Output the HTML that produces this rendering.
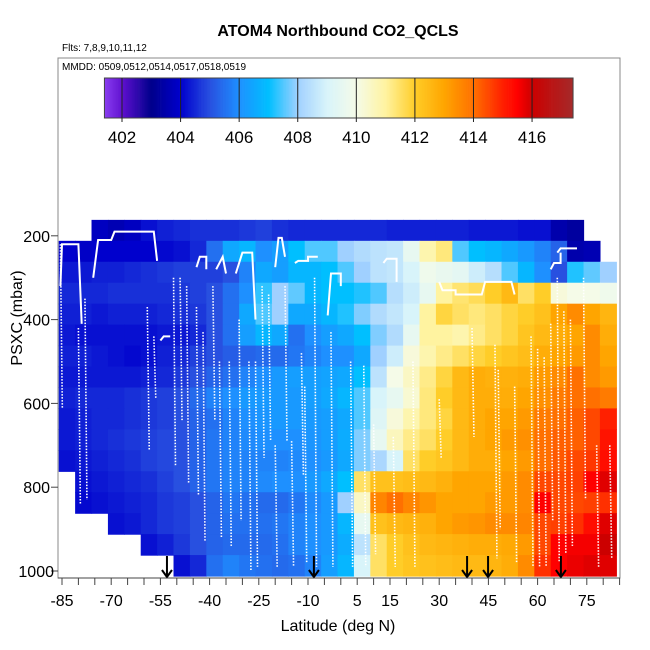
<!DOCTYPE html>
<html><head><meta charset="utf-8"><style>
html,body{margin:0;padding:0;background:#fff}
svg{display:block;font-family:"Liberation Sans",sans-serif}
</style></head><body>
<svg id="c" width="650" height="650" viewBox="0 0 650 650">
<rect width="650" height="650" fill="#fff"/>
<text x="338" y="36" text-anchor="middle" font-size="16" font-weight="bold">ATOM4 Northbound CO2_QCLS</text>
<text x="62" y="51" font-size="10">Flts: 7,8,9,10,11,12</text>
<g id="heat"></g>
<g id="tracks"></g>
<g id="arrows"></g>
<rect x="58" y="58" width="562" height="520" fill="none" stroke="#888" stroke-width="1"/>
<rect x="59" y="59" width="300" height="14" fill="#fff"/>
<text x="62" y="70" font-size="10">MMDD: 0509,0512,0514,0517,0518,0519</text>
<g id="cbar"></g>
<g id="axes"></g>
<text x="338" y="631" text-anchor="middle" font-size="16">Latitude (deg N)</text>
<text transform="translate(22,318) rotate(-90)" text-anchor="middle" font-size="16">PSXC (mbar)</text>
</svg>
<script>
const NS="http://www.w3.org/2000/svg";
const latStart=-86, latStep=5;
const rowTops=[162,212,262,312,362,412,462,512,562,612,662,712,762,812,862,912,962];
const rowStep=50;
const row00=[null,null,403.8,403.6,403.8,404.2,404.4,404.5,404.6,404.6,404.6,404.7,404.8,404.6,404.5,404.5,404.5,404.5,404.5,404.5,404.4,404.4,404.4,404.4,404.4,404.3,404.3,404.3,404.2,404.2,403.5,403.3,null,null];
const row01=[404.0,403.9,404.0,404.0,404.0,404.0,404.1,404.2,404.5,405.5,406.5,406.8,406,406.3,407,407.5,407.5,408,408.3,408.5,408.6,409.5,410.8,411.3,407.5,407,406.8,406.5,406.2,405.8,405.3,403.5,403.6,null];
const row02=[404.3,404.3,404.4,404.4,404.5,404.6,404.7,404.8,404.8,404.8,405,405.8,406.5,406.3,406.8,406.8,407,407.5,408,408.5,408.6,409,409.8,409.6,409.4,408.8,408.4,407.5,406.8,406,405,407.2,407.6,408];
const row03=[404.5,404.5,404.5,404.6,404.6,404.6,404.6,404.7,404.8,405,405.5,406,407.3,408,407.6,406.8,407,407,407.2,407.5,408.4,408.8,409.5,411,411.4,411.6,412,412.5,411.5,412,410.2,410,410,409.8];
const row04=[404.4,404.4,404.3,404.4,404.4,404.4,404.5,404.6,404.7,405,405.5,406.5,407.5,408,406.5,406.5,406.8,407.2,407.8,408.3,408.6,409,411,411.8,411.5,411.3,411.5,411.8,412,412.3,413,413.5,413,412.6];
const row05=[404.3,404.2,404.2,404.2,404.2,404.2,404.3,404.3,404.5,405,405.5,406.3,406.8,406.5,405.5,406,406.3,406.5,407,407.8,408.3,409.5,411,411,410.8,411.2,411.5,411.8,412.2,412.5,412.8,413,413.5,412.8];
const row06=[404.4,404.4,404.3,404.2,404.1,404.2,404.4,404.5,404.8,405,405.2,405.3,405.4,405.4,405.6,405.8,406,406,406.5,408,408.8,410.2,410.8,411.2,411.5,411.8,412,412.2,412.4,412.8,413,413.2,413.5,413];
const row07=[404.3,404.3,404.3,404.3,404.3,404.4,404.5,404.7,405,405.3,405.5,405.8,406,406.2,406.3,406.3,406.4,406.5,407,408.5,410,410.5,411.2,411.8,412.5,412.8,412.7,412.7,412.8,413.2,413.5,414,413.5,413.2];
const row08=[404.4,404.5,404.5,404.5,404.6,404.7,404.8,405,405.4,405.8,406,406.2,406.2,406.2,406.2,406.3,406.5,406.8,407.5,409,409.5,410.3,411.3,412,412.5,412.8,412.8,412.8,413,413.4,413.8,414,414,413.8];
const row09=[404.3,404.4,404.5,404.5,404.6,404.7,404.8,405,405.3,405.5,405.8,406,406.1,406.2,406.2,406.2,406.3,406.5,407.5,409.2,410.2,410.8,411.3,411.8,412.5,412.8,413,413,413.2,413.8,414,414.2,414.5,415];
const row10=[404.3,404.4,404.5,404.6,404.7,404.8,404.9,405,405.3,405.6,405.8,405.9,406,406,406,406.1,406.3,406.6,407.8,409.5,410.6,411.2,411.5,412,412.5,412.8,413,413.2,413.4,414,414.2,414.2,414.5,415.2];
const row11=[404.2,404.3,404.4,404.5,404.6,404.8,404.9,405,405.3,405.6,405.8,405.8,405.8,405.8,405.9,406,406.2,406.5,407.8,408.2,409,411.5,412,412.2,412.5,412.8,412.8,413,413.2,414,414.3,414.5,414.7,415.3];
const row12=[null,404.2,404.3,404.4,404.5,404.6,404.8,405,405.3,405.6,405.8,405.8,405.9,406,406,406.2,406.5,407,411.5,412.3,412.3,412.4,412.5,412.7,413,413,413,413.2,413.5,414.5,414.5,414.6,415.5,415.8];
const row13=[null,404.1,404.2,404.3,404.4,404.5,404.7,404.8,405,405.3,405.6,405.5,405.4,405.4,405.6,405.9,406.2,408,410.5,413.6,414,413.6,413.3,413,413,413,413.2,413.2,413.5,415.5,414.5,414.5,414.6,414.8];
const row14=[null,null,null,404.2,404.3,404.5,404.7,404.8,405,405.3,405.5,405.5,405.5,405.6,405.8,406,406.2,406.8,409.5,412.3,412.5,412.6,412.7,413,413.2,413.3,413.5,413.5,413.6,414.5,414.6,414.8,415.3,415.8];
const row15=[null,null,null,null,null,404.2,404.4,404.7,405,405.3,405.4,405.4,405.4,405.5,405.8,406,406.2,406.6,408.5,411.5,412,412.3,412.5,412.6,412.7,412.8,412.8,412.9,413.2,414.5,415.5,415.6,415.6,416];
const row16=[null,null,null,null,null,null,null,404.2,404.5,405.5,405.8,405.6,405.5,405.4,405.5,405.8,406.3,406.8,409,411.5,412,412.2,412.3,412.4,412.5,412.5,412.6,412.8,413.5,414.8,415.5,415.7,415.8,415.8];
const grid=[row00,row01,row02,row03,row04,row05,row06,row07,row08,row09,row10,row11,row12,row13,row14,row15,row16];
const profLat=[-85.5,-80,-78,-59,-57,-51,-49,-47,-44,-42,-39,-37,-34,-31,-28,-26,-24,-22,-20,-17,-15,-12,-11,-8,-3,3,7,10,16,22,30,40,47,48,53,58,60,62,64,66,68,70,74,78,82];
const profTop=[220,420,350,370,440,300,300,320,370,430,320,500,500,400,500,500,320,340,700,320,690,480,560,300,430,500,510,650,680,500,590,420,460,520,560,440,470,490,410,300,380,400,300,700,700];
const profBot=[610,840,830,710,590,750,640,790,820,930,640,920,940,880,1000,990,730,690,990,690,990,770,980,990,990,990,990,960,990,990,730,680,970,900,980,990,990,990,880,980,960,940,830,990,970];
const arrowLat=[-53,-8.2,38.5,44.9,67.1];
const cbTicks=[402,404,406,408,410,412,414,416];
const xTickLabels=[-85,-70,-55,-40,-25,-10,5,15,30,45,60,75];
const yTickLabels=[200,400,600,800,1000];

const X=lat=>62+(lat+85)*3.28;
const Y=p=>152+p*0.419;
const stops=[[401.4,[138,63,240]],[402,[96,16,208]],[403,[0,0,139]],[404,[0,0,205]],[405,[40,80,224]],[406,[30,144,255]],[407,[0,191,255]],[408,[160,208,255]],[409,[216,244,250]],[410,[245,251,232]],[411,[255,243,160]],[412,[255,205,40]],[413,[255,165,0]],[414,[255,112,0]],[415,[255,32,0]],[415.5,[255,0,0]],[416,[204,0,0]],[417.4,[165,42,42]]];
function col(v){
  if(v<=stops[0][0])return 'rgb('+stops[0][1]+')';
  for(let i=1;i<stops.length;i++){if(v<=stops[i][0]){const a=stops[i-1],b=stops[i],t=(v-a[0])/(b[0]-a[0]);
    return 'rgb('+a[1].map((c,k)=>Math.round(c+(b[1][k]-c)*t)).join(',')+')';}}
  return 'rgb('+stops[stops.length-1][1]+')';
}
function mk(tag,attrs,parent){const e=document.createElementNS(NS,tag);for(const k in attrs)e.setAttribute(k,attrs[k]);parent.appendChild(e);return e;}

const heat=document.getElementById('heat');
grid.forEach((row,r)=>{row.forEach((v,c)=>{ if(v===null)return;
  let x0=Math.max(58,X(latStart+c*latStep)), x1=Math.min(620,X(latStart+(c+1)*latStep));
  const y0=Y(rowTops[r]), y1=Math.min(578,Y(rowTops[r]+rowStep));
  const e=mk('rect',{x:x0.toFixed(2),y:y0.toFixed(2),width:(x1-x0+0.6).toFixed(2),height:(y1-y0+0.6).toFixed(2),fill:col(v)},heat);
  
  
});});

const tr=document.getElementById('tracks');
profLat.forEach((lat,i)=>{
  const e=mk('line',{x1:X(lat),x2:X(lat+0.6),y1:Y(profTop[i]),y2:Y(profBot[i]),stroke:'#fff','stroke-width':1.6,'stroke-dasharray':'1.5 1.5'},tr);
  
  
});
const solid=[[[-85.5,320],[-85,220],[-80,220],[-79,410]],[[-75.5,300],[-74,210],[-70,210],[-69,190],[-57,190],[-56,260]],[[-55,450],[-54,440],[-52,440]],[[-44,275],[-43,250],[-41,250],[-41,280]],[[-38,280],[-36,250],[-35,290]],[[-32,290],[-30,240],[-27,240],[-26,400]],[[-20,275],[-19,205],[-18,205],[-17,250]],[[-14,265],[-13,260],[-10,260],[-10,250],[-7,250]],[[-4,390],[-3,290],[0,290],[0,320]],[[13,265],[14,255],[17,255],[17,310]],[[30,310],[31,330],[35,330],[35,340],[43,340],[44,310],[52,310],[53,340]],[[66,240],[67,230],[72,230]],[[64,280],[65,265],[67,265],[67,240]]];
solid.forEach(pts=>{
  const e=mk('polyline',{points:pts.map(p=>X(p[0]).toFixed(1)+','+Y(p[1]).toFixed(1)).join(' '),fill:'none',stroke:'#fff','stroke-width':2},tr);
  
  
});

const ar=document.getElementById('arrows');
arrowLat.forEach(lat=>{
  const x=X(lat);
  const e=mk('path',{d:`M${x},556 L${x},577 M${x-5},570 L${x},577 L${x+5},570`,stroke:'#000','stroke-width':2,fill:'none'},ar);
  
  
});

const cb=document.getElementById('cbar');
const CX=v=>122+(v-402)*29.29;
for(let v=401.4;v<417.4;v+=0.05){
  const e=mk('rect',{x:CX(v).toFixed(2),y:78,width:1.8,height:40,fill:col(v+0.025)},cb);
  
  
}
mk('rect',{x:CX(401.4),y:78,width:CX(417.4)-CX(401.4),height:40,fill:'none',stroke:'#444','stroke-width':1},cb);
cbTicks.forEach(v=>{
  const l=mk('line',{x1:CX(v),x2:CX(v),y1:78,y2:122,stroke:'#222','stroke-width':1},cb);
  
  
  const t=mk('text',{x:CX(v),y:143,'text-anchor':'middle','font-size':17},cb);t.textContent=v;
  
  
});

const ax=document.getElementById('axes');
for(let lat=-85;lat<=85;lat+=5){
  const l=mk('line',{x1:X(lat),x2:X(lat),y1:578,y2:585,stroke:'#444','stroke-width':1},ax);
  
  
}
mk('line',{x1:58,x2:620,y1:578,y2:578,stroke:'#444','stroke-width':1},ax);
xTickLabels.forEach(v=>{
  const t=mk('text',{x:X(v),y:606,'text-anchor':'middle','font-size':16},ax);t.textContent=v;
  
  
});
yTickLabels.forEach(v=>{
  const l=mk('line',{x1:51,x2:58,y1:Y(v),y2:Y(v),stroke:'#444','stroke-width':1},ax);
  
  
  const t=mk('text',{x:v===1000?54:50,y:Y(v)+6,'text-anchor':'end','font-size':16},ax);t.textContent=v;
  
  
});
</script>
</body></html>
